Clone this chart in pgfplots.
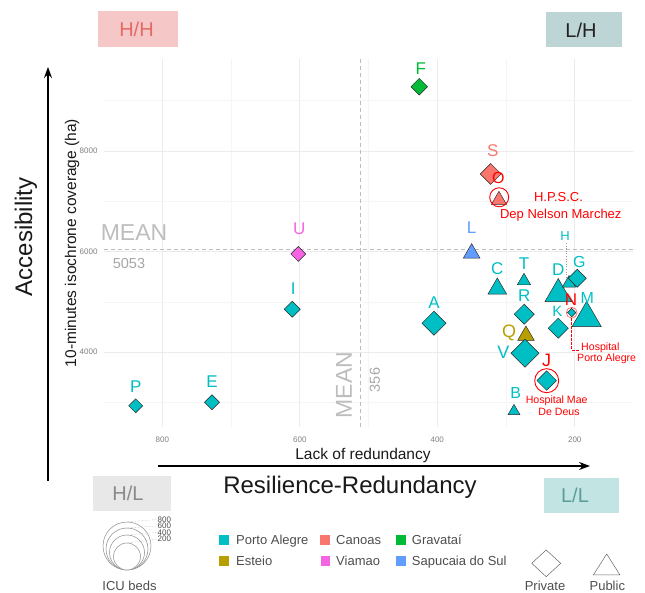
\documentclass[border=0pt]{standalone}
\usepackage{fontspec}
\setmainfont{Liberation Sans}
\usepackage{pgfplots}
\pgfplotsset{compat=1.18}
\usetikzlibrary{arrows.meta}
\definecolor{pa}{HTML}{00BFC4}
\definecolor{ca}{HTML}{F8766D}
\definecolor{es}{HTML}{B79F00}
\definecolor{gr}{HTML}{00BA38}
\definecolor{sa}{HTML}{619CFF}
\definecolor{vi}{HTML}{F564E3}
\definecolor{hl}{HTML}{FF0000}
\definecolor{meangray}{HTML}{BDBDBD}
\definecolor{hhfill}{HTML}{F5C7C7}
\definecolor{hhtext}{HTML}{E26B68}
\definecolor{lhfill}{HTML}{BED5D5}
\definecolor{lhtext}{HTML}{222222}
\definecolor{hlfill}{HTML}{E8E8E8}
\definecolor{hltext}{HTML}{8A8A8A}
\definecolor{llfill}{HTML}{C2E5E3}
\definecolor{lltext}{HTML}{5A9D9A}
\definecolor{legtext}{HTML}{4D4D4D}
\newcommand{\fs}[1]{\fontsize{#1}{#1}\selectfont}
\newcommand{\dia}[4]{\addplot[only marks, mark=square*, mark size=#3, mark options={rotate=45, fill=#4, draw=black!85, line width=0.45pt}] coordinates {(#1,#2)};}
\newcommand{\tri}[4]{\addplot[only marks, mark=triangle*, mark size=#3, mark options={fill=#4, draw=black!85, line width=0.45pt}] coordinates {(#1,#2)};}
\begin{document}
\begin{tikzpicture}
\path[use as bounding box] (0,0) rectangle (645pt,593pt);
\begin{axis}[
  at={(104pt,166pt)}, anchor=south west,
  scale only axis, width=529pt, height=368pt,
  x dir=reverse, xmin=115.3, xmax=884.8, ymin=2513, ymax=9829,
  xtick={200,400,600,800}, ytick={4000,6000,8000},
  minor xtick={300,500,700}, minor ytick={3000,5000,7000,9000},
  grid=both,
  major grid style={draw=black!8, line width=0.6pt},
  minor grid style={draw=black!4, line width=0.6pt},
  axis line style={draw=none}, major tick length=0pt, minor tick length=0pt,
  ticklabel style={font=\fs{8}, text=black!50},
  /pgf/number format/assume math mode=true,
  /pgf/number format/1000 sep={},
  xticklabel style={yshift=-6pt},
  yticklabel style={xshift=-3pt},
]
\addplot[meangray, line width=0.8pt, dash pattern=on 4pt off 3pt] coordinates {(511.4,2513) (511.4,9829)};
\addplot[meangray, line width=0.8pt, dash pattern=on 4pt off 3pt] coordinates {(115.3,6053) (884.8,6053)};
\dia{838.7}{2933}{4.95}{pa} % P
\dia{727.7}{3006}{5.3}{pa} % E
\dia{610.9}{4854}{5.66}{pa} % I
\dia{602.2}{5953}{5.3}{vi} % U
\dia{426.2}{9278}{5.9}{gr} % F
\dia{322.3}{7543}{7.4}{ca} % S
\tri{310.3}{7026}{8.7}{ca} % O
\tri{350.0}{5967}{9.6}{sa} % L
\tri{312.7}{5262}{10.8}{pa} % C
\tri{273.9}{5417}{7.7}{pa} % T
\dia{273.5}{4755}{7.1}{pa} % R
\tri{271.0}{4330}{9.6}{es} % Q
\dia{272.4}{3980}{9.9}{pa} % V
\dia{240.9}{3436}{6.9}{pa} % J
\tri{288.4}{2828}{6.8}{pa} % B
\dia{404.8}{4576}{8.5}{pa} % A
\tri{224.0}{5158}{15.4}{pa} % D
\tri{208.4}{5371}{7.7}{pa} % H
\dia{196.4}{5470}{6.4}{pa} % G
\dia{224.0}{4477}{7.1}{pa} % K
\dia{204.5}{4787}{3.0}{pa} % N
\tri{182.7}{4676}{16.9}{pa} % M
\end{axis}
\begin{scope}[shift={(0pt,593pt)}, x=1pt, y=-1pt]
% quadrant boxes
\fill[hhfill] (97.7,11) rectangle (177.7,46.7);
\node[text=hhtext, font=\fs{20}] at (136.5,29) {H/H};
\fill[lhfill] (546,12.5) rectangle (621.7,47.5);
\node[text=lhtext, font=\fs{20}] at (581,30.5) {L/H};
\fill[hlfill] (92.7,476) rectangle (171,510.7);
\node[text=hltext, font=\fs{20}] at (128,493.5) {H/L};
\fill[llfill] (544.3,478.3) rectangle (618.7,512.7);
\node[text=lltext, font=\fs{20}] at (575,495.5) {L/L};
% arrows and titles
\draw[-{Stealth[length=11pt,width=8pt]}, line width=1.2pt] (48,481) -- (48,67);
\draw[-{Stealth[length=11pt,width=8pt]}, line width=1.2pt] (158,466) -- (590,466);
\node[rotate=90, font=\fs{24}, text=black!90] at (26,237) {Accesibility};
\node[font=\fs{24}, text=black!90] at (350,487) {Resilience-Redundancy};
\node[rotate=90, font=\fs{15.5}, text=black!90] at (72,243) {10-minutes isochrone coverage (ha)};
\node[font=\fs{15.5}, text=black!90] at (363,455) {Lack of redundancy};
% mean labels
\node[font=\fs{23}, text=meangray] at (134,233) {MEAN};
\node[font=\fs{14.5}, text=black!35] at (129,263.5) {5053};
\node[rotate=90, font=\fs{23}, text=meangray] at (344,385) {MEAN};
\node[rotate=90, font=\fs{14.5}, text=black!35] at (375,380) {356};
% point labels
\node[font=\fs{17}, text=pa] at (135.7,387) {P};
\node[font=\fs{17}, text=pa] at (212,381.3) {E};
\node[font=\fs{17}, text=pa] at (293.3,289) {I};
\node[font=\fs{17}, text=vi] at (299.3,229) {U};
\node[font=\fs{17}, text=gr] at (420.7,68.3) {F};
\node[font=\fs{17}, text=ca] at (492.7,150.7) {S};
\node[font=\fs{16}, text=hl] at (498.3,178.3) {O};
\node[font=\fs{17}, text=sa] at (471.7,228) {L};
\node[font=\fs{17}, text=pa] at (497.3,268.3) {C};
\node[font=\fs{17}, text=pa] at (524,264) {T};
\node[font=\fs{17}, text=pa] at (524.3,295.7) {R};
\node[font=\fs{17}, text=pa] at (434,303) {A};
\node[font=\fs{18}, text=es] at (509,333.3) {Q};
\node[font=\fs{18}, text=pa] at (503.3,352.3) {V};
\node[font=\fs{18}, text=hl] at (546.7,360) {J};
\node[font=\fs{16}, text=pa] at (515.7,393.3) {B};
\node[font=\fs{17}, text=pa] at (558.3,270) {D};
\node[font=\fs{16}, text=pa] at (579.3,262.3) {G};
\node[font=\fs{13}, text=pa] at (565,236) {H};
\node[font=\fs{15}, text=pa] at (557.3,311.3) {K};
\node[font=\fs{17}, text=hl] at (571,300) {N};
\node[font=\fs{16}, text=pa] at (587.3,297.7) {M};
\draw[black!40, dotted, line width=0.6pt] (566.5,243) -- (566.5,277);
% highlights
\draw[hl, line width=0.9pt] (499.2,197.3) circle (9.5);
\draw[hl, line width=0.9pt] (546.7,380.7) circle (12);
\draw[hl!60, line width=0.7pt] (571.7,312.7) circle (5.4);
\draw[hl, line width=0.7pt, dash pattern=on 2.5pt off 1.5pt] (571.7,318.5) -- (571.7,350) -- (579,350);
\node[font=\fs{13}, text=hl] at (558.5,197.3) {H.P.S.C.};
\node[font=\fs{13}, text=hl] at (560.8,215) {Dep Nelson Marchez};
\node[font=\fs{10.6}, text=hl] at (556.7,400.7) {Hospital Mae};
\node[font=\fs{10.6}, text=hl] at (559,411.7) {De Deus};
\node[font=\fs{10.6}, text=hl, anchor=west, inner sep=0pt] at (581,347.3) {Hospital};
\node[font=\fs{10.6}, text=hl, anchor=west, inner sep=0pt] at (577,358.7) {Porto Alegre};
% colour legend
\fill[pa] (219.2,535.2) rectangle (228.7,544.7);
\node[font=\fs{13}, text=legtext, anchor=base west, inner sep=0pt] at (236,544.5) {Porto Alegre};
\fill[ca] (320,535.2) rectangle (329.5,544.7);
\node[font=\fs{13}, text=legtext, anchor=base west, inner sep=0pt] at (336,544.5) {Canoas};
\fill[gr] (396,535.2) rectangle (405.5,544.7);
\node[font=\fs{13}, text=legtext, anchor=base west, inner sep=0pt] at (411.7,544.5) {Gravataí};
\fill[es] (219.2,556.2) rectangle (228.7,565.7);
\node[font=\fs{13}, text=legtext, anchor=base west, inner sep=0pt] at (236,565.5) {Esteio};
\fill[vi] (320.8,556.2) rectangle (330.3,565.7);
\node[font=\fs{13}, text=legtext, anchor=base west, inner sep=0pt] at (336,565.5) {Viamao};
\fill[sa] (396,556.2) rectangle (405.5,565.7);
\node[font=\fs{13}, text=legtext, anchor=base west, inner sep=0pt] at (411.7,565.5) {Sapucaia do Sul};
% shape legend
\draw[black!60, line width=0.5pt] (546.2,550) -- (560.7,563.3) -- (546.2,576.7) -- (531.7,563.3) -- cycle;
\draw[black!60, line width=0.5pt] (606.7,554) -- (620,575) -- (593.3,575) -- cycle;
\node[font=\fs{13}, text=legtext] at (545,586) {Private};
\node[font=\fs{13}, text=legtext] at (607.3,586) {Public};
% size legend
\foreach \r in {24,21,17.5,13.5} {\draw[black!45, fill=white, line width=0.5pt] (127,{570-\r}) circle (\r);}
\draw[black!35, densely dotted, line width=0.4pt] (127,522) -- (157,519.5);
\draw[black!35, densely dotted, line width=0.4pt] (127,528) -- (157,526);
\draw[black!35, densely dotted, line width=0.4pt] (127,535) -- (157,532.5);
\draw[black!35, densely dotted, line width=0.4pt] (127,543) -- (157,539);
\node[font=\fs{8}, text=legtext, anchor=west, inner sep=0.5pt] at (157,519.5) {800};
\node[font=\fs{8}, text=legtext, anchor=west, inner sep=0.5pt] at (157,526) {600};
\node[font=\fs{8}, text=legtext, anchor=west, inner sep=0.5pt] at (157,532.5) {400};
\node[font=\fs{8}, text=legtext, anchor=west, inner sep=0.5pt] at (157,539) {200};
\node[font=\fs{13}, text=legtext] at (129.5,586) {ICU beds};
\end{scope}
\end{tikzpicture}
\end{document}
